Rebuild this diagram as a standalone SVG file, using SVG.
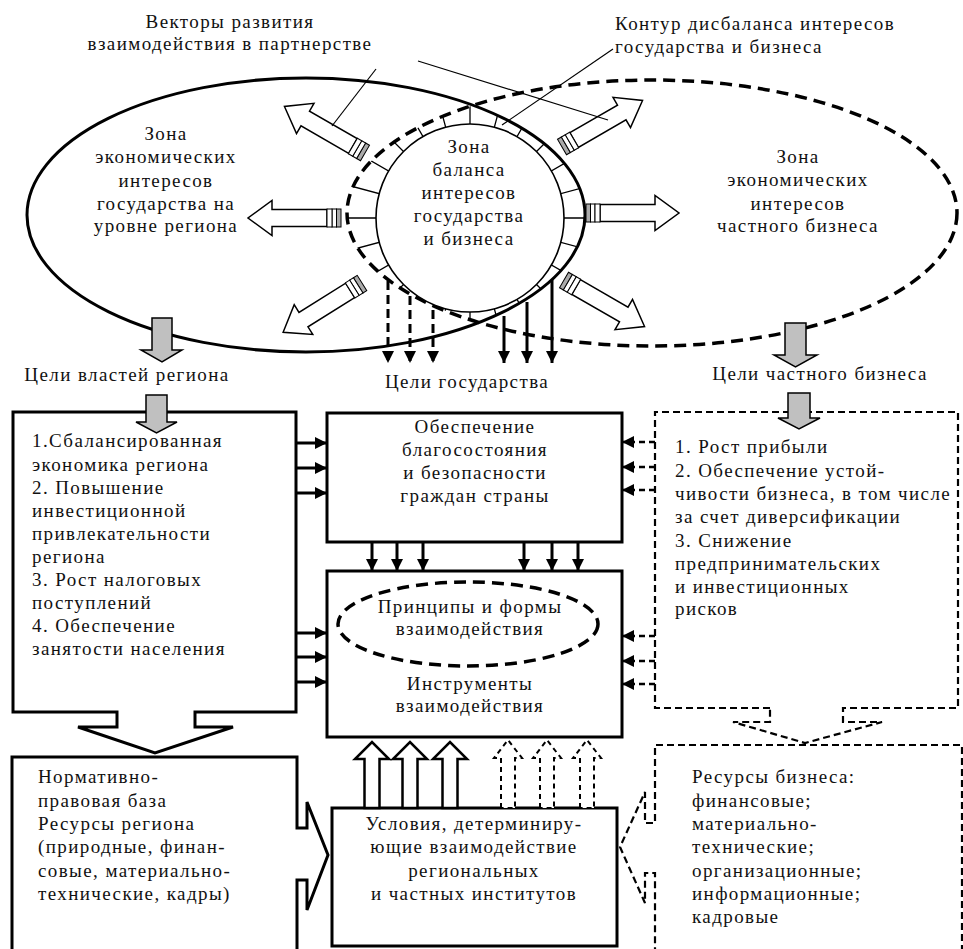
<svg xmlns="http://www.w3.org/2000/svg" width="963" height="949" viewBox="0 0 963 949" font-family="'Liberation Serif', 'Times New Roman', Times, serif">
<defs>
<style>
text{font-size:19px;letter-spacing:1.4px;fill:#111}
.c{text-anchor:middle}
.box{fill:#fff;stroke:#000;stroke-width:3}
.dbox{fill:#fff;stroke:#000;stroke-width:2.2;stroke-dasharray:7 4}
.gray{fill:#c0c0c0;stroke:#000;stroke-width:1.5}
.ln{stroke:#000;stroke-width:3;fill:none}
.dln{stroke:#000;stroke-width:3;fill:none;stroke-dasharray:9 5}
.dln2{stroke:#000;stroke-width:2.5;fill:none;stroke-dasharray:6 4}
.lead{stroke:#000;stroke-width:1.2;fill:none}
.tick{stroke:#000;stroke-width:1.3;fill:none}
.hol{fill:#fff;stroke:#000;stroke-width:2.5}
.dhol{fill:#fff;stroke:#000;stroke-width:2;stroke-dasharray:5 4}
.va{fill:#fff;stroke:#000;stroke-width:1.5}
</style>
<marker id="ah" viewBox="0 0 12 12" refX="12" refY="6" markerWidth="12" markerHeight="12" markerUnits="userSpaceOnUse" orient="auto"><path d="M0,0 L12,6 L0,12 z" fill="#000"/></marker>
<clipPath id="c1"><ellipse cx="306" cy="215" rx="279" ry="137"/></clipPath>
<clipPath id="c2"><ellipse cx="652" cy="213" rx="305" ry="133"/></clipPath>
<g id="va">
<polygon class="va" points="14,-8.5 69,-8.5 69,-17.5 93,0 69,17.5 69,8.5 14,8.5"/>
<rect x="0" y="-9" width="4.5" height="18" fill="#aaa" stroke="#000" stroke-width="1"/>
<rect x="4.5" y="-9" width="4.5" height="18" fill="#fff" stroke="#000" stroke-width="1"/>
<rect x="9" y="-9" width="5" height="18" fill="#fff" stroke="#000" stroke-width="1"/>
</g>
</defs>
<rect width="963" height="949" fill="#fff"/>

<g id="zone-state">
<ellipse cx="306" cy="215" rx="279" ry="137" fill="none" stroke="#000" stroke-width="3"/>
<text class="c" x="166" y="140">Зона</text>
<text class="c" x="166" y="163">экономических</text>
<text class="c" x="166" y="187">интересов</text>
<text class="c" x="166" y="210">государства на</text>
<text class="c" x="166" y="232">уровне региона</text>
</g>
<g id="zone-business">
<ellipse cx="652" cy="213" rx="305" ry="133" fill="none" stroke="#000" stroke-width="3.5" stroke-dasharray="12 7"/>
<text class="c" x="798" y="163">Зона</text>
<text class="c" x="798" y="186">экономических</text>
<text class="c" x="798" y="210">интересов</text>
<text class="c" x="798" y="232">частного бизнеса</text>
</g>
<g id="zone-balance">
<g clip-path="url(#c1)"><g clip-path="url(#c2)">
<path class="tick" d="M670 218L270 218M663.2 269.8L276.8 166.2M643.2 318L296.8 118M611.4 359.4L328.6 76.6M570 391.2L370 44.8M521.8 411.2L418.2 24.8M470 418L470 18M418.2 411.2L521.8 24.8M370 391.2L570 44.8M328.6 359.4L611.4 76.6M296.8 318L643.2 118M276.8 269.8L663.2 166.2"/>
</g></g>
<circle cx="470" cy="218" r="94" fill="#fff" stroke="#000" stroke-width="1.6"/>
<text class="c" x="469" y="153">Зона</text>
<text class="c" x="469" y="176">баланса</text>
<text class="c" x="469" y="199">интересов</text>
<text class="c" x="469" y="222">государства</text>
<text class="c" x="469" y="245">и бизнеса</text>
</g>

<g id="vectors">
<use href="#va" transform="translate(341,218) rotate(180)"/>
<use href="#va" transform="translate(586,213)"/>
<use href="#va" transform="translate(365,153) rotate(210)"/>
<use href="#va" transform="translate(362,283) rotate(148)"/>
<use href="#va" transform="translate(562,147) rotate(-30)"/>
<use href="#va" transform="translate(564,280) rotate(30)"/>
</g>

<g id="label-vectors">
<text class="c" x="230" y="28">Векторы развития</text>
<text class="c" x="230" y="50">взаимодействия в партнерстве</text>
</g>
<g id="label-contour">
<text x="615" y="30">Контур дисбаланса интересов</text>
<text x="615" y="53">государства и бизнеса</text>
</g>

<g id="goals-region-label"><text class="c" x="127" y="381">Цели властей региона</text></g>
<g id="goals-state-label"><text class="c" x="467" y="388">Цели государства</text></g>
<g id="goals-business-label"><text class="c" x="820" y="380">Цели частного бизнеса</text></g>

<g id="box-region-goals">
<path class="box" d="M117,712 L13,712 L13,412 L296,412 L296,712 L195,712 L195,727 L233,727 L155,753 L78,727 L117,727 Z"/>
<text x="32" y="447">1.Сбалансированная</text>
<text x="32" y="471">экономика региона</text>
<text x="32" y="494">2. Повышение</text>
<text x="32" y="517">инвестиционной</text>
<text x="32" y="540">привлекательности</text>
<text x="32" y="563">региона</text>
<text x="32" y="586">3. Рост налоговых</text>
<text x="32" y="609">поступлений</text>
<text x="32" y="632">4. Обеспечение</text>
<text x="32" y="655">занятости населения</text>
</g>

<g id="box-state-goals">
<rect class="box" x="327" y="413" width="295" height="129"/>
<text class="c" x="475" y="433">Обеспечение</text>
<text class="c" x="475" y="456">благосостояния</text>
<text class="c" x="475" y="479">и безопасности</text>
<text class="c" x="475" y="502">граждан страны</text>
</g>

<g id="box-interaction">
<rect class="box" x="327" y="571" width="295" height="166"/>
<ellipse cx="468" cy="624" rx="130" ry="42" fill="none" stroke="#000" stroke-width="3.5" stroke-dasharray="12 7"/>
<text class="c" x="470" y="613">Принципы и формы</text>
<text class="c" x="470" y="635">взаимодействия</text>
<text class="c" x="470" y="690">Инструменты</text>
<text class="c" x="470" y="712">взаимодействия</text>
</g>

<g id="box-business-goals">
<path class="dbox" d="M770,708 L655,708 L655,412 L958,412 L958,708 L843,708 L843,722 L882,722 L805,743 L733,722 L770,722 Z"/>
<text x="675" y="453">1. Рост прибыли</text>
<text x="675" y="477">2. Обеспечение устой-</text>
<text x="675" y="500">чивости бизнеса, в том числе</text>
<text x="675" y="523">за счет диверсификации</text>
<text x="675" y="547">3. Снижение</text>
<text x="675" y="570">предпринимательских</text>
<text x="675" y="593">и инвестиционных</text>
<text x="675" y="615">рисков</text>
</g>

<g id="box-region-resources">
<path class="box" d="M12,952 L12,757 L297,757 L297,828 L307,828 L307,802 L328,855 L307,910 L307,880 L297,880 L297,952"/>
<text x="38" y="783">Нормативно-</text>
<text x="38" y="807">правовая база</text>
<text x="38" y="830">Ресурсы региона</text>
<text x="38" y="853">(природные, финан-</text>
<text x="38" y="877">совые, материально-</text>
<text x="38" y="900">технические, кадры)</text>
</g>

<g id="box-conditions">
<rect class="box" x="332" y="808" width="285" height="138"/>
<text class="c" x="474" y="830">Условия, детерминиру-</text>
<text class="c" x="474" y="853">ющие взаимодействие</text>
<text class="c" x="474" y="877">региональных</text>
<text class="c" x="474" y="900">и частных институтов</text>
</g>

<g id="box-business-resources">
<path class="dbox" d="M962,952 L962,745 L655,745 L655,823 L645,823 L645,792 L620,847 L645,903 L645,873 L655,873 L655,952"/>
<text x="692" y="783">Ресурсы бизнеса:</text>
<text x="692" y="807">финансовые;</text>
<text x="692" y="830">материально-</text>
<text x="692" y="853">технические;</text>
<text x="692" y="877">организационные;</text>
<text x="692" y="900">информационные;</text>
<text x="692" y="923">кадровые</text>
</g>

<g id="connectors">
<line class="lead" x1="376" y1="69" x2="332" y2="126"/>
<line class="lead" x1="418" y1="61" x2="608" y2="120"/>
<line class="lead" x1="613" y1="49" x2="502" y2="125"/>
<polygon class="gray" points="152,318 172,318 172,350 182,350 162,362 141,350 152,350"/>
<polygon class="gray" points="146,395 167,395 167,422 177,422 156.5,433 136,422 146,422"/>
<polygon class="gray" points="785,323 806,323 806,355 817,355 795.5,367 774,355 785,355"/>
<polygon class="gray" points="788,393 810,393 810,418 820,418 799,429 778,418 788,418"/>
<line class="dln" x1="388" y1="281" x2="388" y2="363" marker-end="url(#ah)"/>
<line class="dln" x1="410" y1="296" x2="410" y2="363" marker-end="url(#ah)"/>
<line class="dln" x1="433" y1="310" x2="433" y2="363" marker-end="url(#ah)"/>
<line class="ln" x1="504" y1="316" x2="504" y2="363" marker-end="url(#ah)"/>
<line class="ln" x1="527" y1="302" x2="527" y2="363" marker-end="url(#ah)"/>
<line class="ln" x1="552" y1="280" x2="552" y2="363" marker-end="url(#ah)"/>
<line class="ln" x1="296" y1="443" x2="327" y2="443" marker-end="url(#ah)"/>
<line class="ln" x1="296" y1="468" x2="327" y2="468" marker-end="url(#ah)"/>
<line class="ln" x1="296" y1="493" x2="327" y2="493" marker-end="url(#ah)"/>
<line class="ln" x1="296" y1="633" x2="327" y2="633" marker-end="url(#ah)"/>
<line class="ln" x1="296" y1="657" x2="327" y2="657" marker-end="url(#ah)"/>
<line class="ln" x1="296" y1="682" x2="327" y2="682" marker-end="url(#ah)"/>
<line class="dln2" x1="655" y1="442" x2="622" y2="442" marker-end="url(#ah)"/>
<line class="dln2" x1="655" y1="467" x2="622" y2="467" marker-end="url(#ah)"/>
<line class="dln2" x1="655" y1="490" x2="622" y2="490" marker-end="url(#ah)"/>
<line class="dln2" x1="655" y1="636" x2="622" y2="636" marker-end="url(#ah)"/>
<line class="dln2" x1="655" y1="661" x2="622" y2="661" marker-end="url(#ah)"/>
<line class="dln2" x1="655" y1="684" x2="622" y2="684" marker-end="url(#ah)"/>
<line class="ln" x1="372" y1="542" x2="372" y2="571" marker-end="url(#ah)"/>
<line class="ln" x1="397" y1="542" x2="397" y2="571" marker-end="url(#ah)"/>
<line class="ln" x1="423" y1="542" x2="423" y2="571" marker-end="url(#ah)"/>
<line class="ln" x1="524" y1="542" x2="524" y2="571" marker-end="url(#ah)"/>
<line class="ln" x1="552" y1="542" x2="552" y2="571" marker-end="url(#ah)"/>
<line class="ln" x1="578" y1="542" x2="578" y2="571" marker-end="url(#ah)"/>
<polygon class="hol" points="364.5,808 364.5,759 355,759 372,742 389,759 379.5,759 379.5,808"/>
<polygon class="hol" points="402.5,808 402.5,759 393,759 410,742 427,759 417.5,759 417.5,808"/>
<polygon class="hol" points="442.5,808 442.5,759 433,759 450,742 467,759 457.5,759 457.5,808"/>
<polygon class="dhol" points="501,808 501,758 494,758 508,740 522,758 515,758 515,808"/>
<polygon class="dhol" points="540,808 540,758 533,758 547,740 561,758 554,758 554,808"/>
<polygon class="dhol" points="580,808 580,758 573,758 587,740 601,758 594,758 594,808"/>
</g>
</svg>
